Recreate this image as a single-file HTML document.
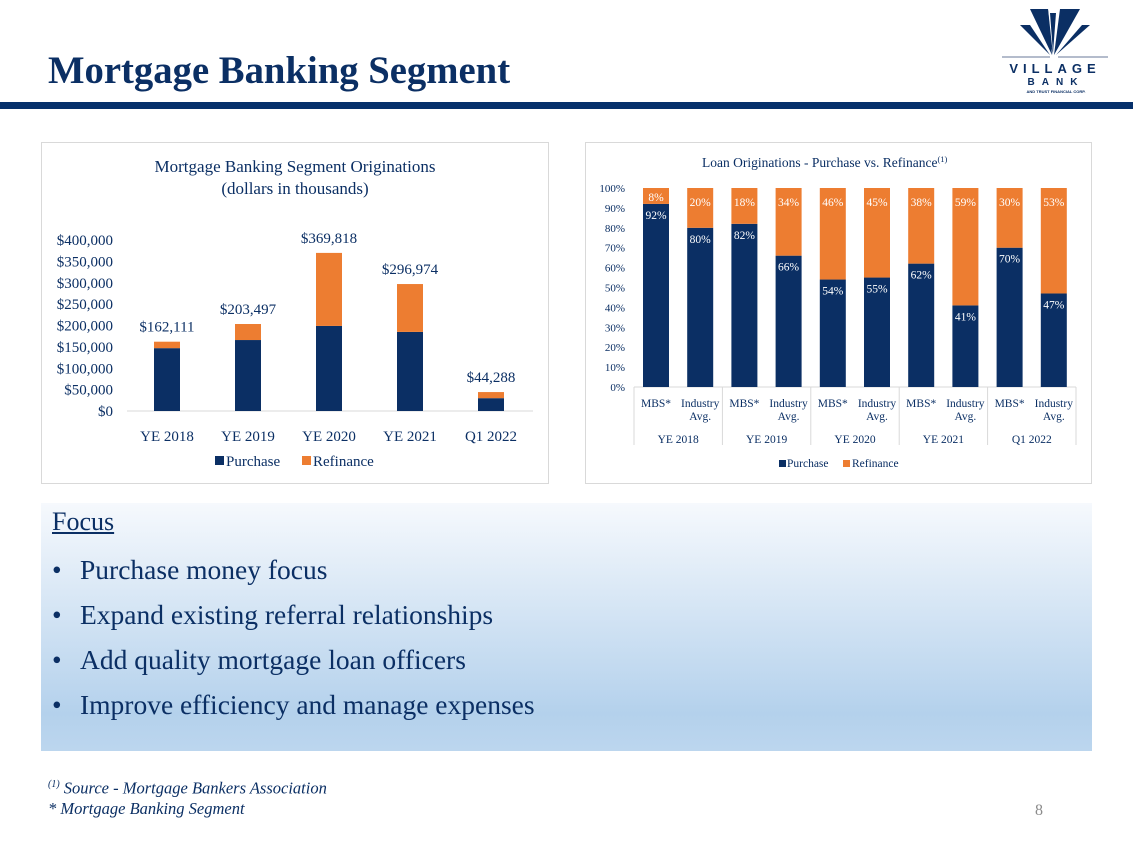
<!DOCTYPE html>
<html><head><meta charset="utf-8"><style>
body{margin:0;width:1133px;height:849px;background:#fff;position:relative;overflow:hidden;font-family:"Liberation Serif",serif;color:#1f3864}
.abs{position:absolute}
</style></head><body>
<div class="abs" style="left:48px;top:49px;font-size:38.7px;font-weight:bold;color:#0b2f64;white-space:nowrap">Mortgage Banking Segment</div>
<div class="abs" style="left:0;top:102px;width:1133px;height:7px;background:#06306b"></div>
<svg class="abs" style="left:990px;top:5px" width="135" height="95" viewBox="0 0 135 95">
<g fill="#0b2f64"><polygon points="40,4 58,4 62,50"/><polygon points="70,4 90,4 64,50"/><polygon points="30,20 40,20 60,50"/><polygon points="92,20 100,20 66,50"/><polygon points="52,4 58,4 63,50"/><polygon points="60,8 66,8 63,48"/></g>
<line x1="12" y1="52" x2="60" y2="52" stroke="#6a7a99" stroke-width="1"/><line x1="68" y1="52" x2="118" y2="52" stroke="#6a7a99" stroke-width="1"/>
<text x="65" y="68" text-anchor="middle" font-family="Liberation Sans" font-weight="bold" font-size="13" letter-spacing="5" fill="#0b2f64">VILLAGE</text>
<text x="66" y="80" text-anchor="middle" font-family="Liberation Sans" font-weight="bold" font-size="10" letter-spacing="7" fill="#0b2f64">BANK</text>
<text x="66" y="88" text-anchor="middle" font-family="Liberation Sans" font-weight="bold" font-size="4" fill="#0b2f64">AND TRUST FINANCIAL CORP.</text>
</svg>

<svg class="abs" id="c1" style="left:0;top:0" width="1133" height="500"></svg>

<div class="abs" style="left:41px;top:503px;width:1051px;height:248px;background:linear-gradient(#f6f9fd,#b4d1ec 85%,#bcd6ee)"></div>
<div class="abs" style="left:52px;top:507px;font-size:26px;text-decoration:underline;color:#0b2f64">Focus</div>
<div class="abs" style="left:52px;top:547px;font-size:27.5px;line-height:45px;color:#0b2f64;white-space:nowrap">
<div><span style="display:inline-block;width:28px">•</span>Purchase money focus</div>
<div><span style="display:inline-block;width:28px">•</span>Expand existing referral relationships</div>
<div><span style="display:inline-block;width:28px">•</span>Add quality mortgage loan officers</div>
<div><span style="display:inline-block;width:28px">•</span>Improve efficiency and manage expenses</div>
</div>
<div class="abs" style="left:48px;top:775px;font-size:16.5px;font-style:italic;line-height:20px;color:#0b2f64"><sup style="font-size:10px">(1)</sup> Source - Mortgage Bankers Association<br>* Mortgage Banking Segment</div>
<div class="abs" style="left:1035px;top:802px;font-size:16px;color:#8c8c8c">8</div>

<script>
const NS='http://www.w3.org/2000/svg';
const NAVY='#0b2f64',ORANGE='#ed7d31';
// Left chart data
const cats1=['YE 2018','YE 2019','YE 2020','YE 2021','Q1 2022'];
const purchase1=[147000,166000,199000,185000,30000];
const totals1=[162111,203497,369818,296974,44288];
const totalLabels1=['$162,111','$203,497','$369,818','$296,974','$44,288'];
const ticks1=[0,50000,100000,150000,200000,250000,300000,350000,400000];
// Right chart data
const groups2=['YE 2018','YE 2019','YE 2020','YE 2021','Q1 2022'];
const subs2=['MBS*','Industry Avg.'];
const purchPct=[92,80,82,66,54,55,62,41,70,47];
const refiPct=[8,20,18,34,46,45,38,59,30,53];
const ticks2=[0,10,20,30,40,50,60,70,80,90,100];

const svg=document.getElementById('c1');
function el(t,a,txt,parent){const e=document.createElementNS(NS,t);for(const k in a)e.setAttribute(k,a[k]);if(txt!=null)e.textContent=txt;(parent||svg).appendChild(e);return e;}
function fmt(v){return '$'+v.toLocaleString('en-US');}

// panel 1
let p=el('rect',{x:41.5,y:142.5,width:507,height:341,fill:'#fff',stroke:'#d9d9d9'});

let t=el('text',{x:295,y:172,'text-anchor':'middle','font-size':17,fill:NAVY,'font-family':'Liberation Serif'},'Mortgage Banking Segment Originations');

t=el('text',{x:295,y:194,'text-anchor':'middle','font-size':17,fill:NAVY,'font-family':'Liberation Serif'},'(dollars in thousands)');

const y0=411,yTop=240,vmax=400000;
const Y1=v=>y0-(v/vmax)*(y0-yTop);
const X1=i=>167+i*81;
ticks1.forEach(v=>{const e=el('text',{x:113,y:Y1(v)+5,'text-anchor':'end','font-size':15,fill:NAVY,'font-family':'Liberation Serif'},fmt(v));
});
let ax=el('line',{x1:127,y1:y0,x2:533,y2:y0,stroke:'#d9d9d9'});
cats1.forEach((c,i)=>{
 const x=X1(i),w=26;
 let r=el('rect',{x:x-w/2,y:Y1(purchase1[i]),width:w,height:y0-Y1(purchase1[i]),fill:NAVY});
 
 r=el('rect',{x:x-w/2,y:Y1(totals1[i]),width:w,height:Y1(purchase1[i])-Y1(totals1[i]),fill:ORANGE});
 
 let l=el('text',{x:x,y:Y1(totals1[i])-10,'text-anchor':'middle','font-size':15,fill:NAVY,'font-family':'Liberation Serif'},totalLabels1[i]);
 
 l=el('text',{x:x,y:441,'text-anchor':'middle','font-size':15,fill:NAVY,'font-family':'Liberation Serif'},c);
 
});
let lg=el('rect',{x:215,y:456,width:9,height:9,fill:NAVY});
lg=el('text',{x:226,y:466,'font-size':15,fill:NAVY,'font-family':'Liberation Serif'},'Purchase');
lg=el('rect',{x:302,y:456,width:9,height:9,fill:ORANGE});
lg=el('text',{x:313,y:466,'font-size':15,fill:NAVY,'font-family':'Liberation Serif'},'Refinance');

// panel 2
p=el('rect',{x:585.5,y:142.5,width:506,height:341,fill:'#fff',stroke:'#d9d9d9'});

t=el('text',{x:702,y:167,'font-size':13.5,fill:NAVY,'font-family':'Liberation Serif'},'Loan Originations - Purchase vs. Refinance');

const sup=el('tspan',{'font-size':8.5,dy:-5},'(1)',t);

const b0=387,b100=188;
const Y2=v=>b0-(v/100)*(b0-b100);
const X2=i=>656+i*44.2;
ticks2.forEach(v=>{const e=el('text',{x:625,y:Y2(v)+4,'text-anchor':'end','font-size':11,fill:NAVY,'font-family':'Liberation Serif'},v+'%');
});
ax=el('line',{x1:634,y1:b0,x2:1076,y2:b0,stroke:'#d9d9d9'});
purchPct.forEach((v,i)=>{
 const x=X2(i),w=26;
 let r=el('rect',{x:x-w/2,y:Y2(v),width:w,height:b0-Y2(v),fill:NAVY});
 
 r=el('rect',{x:x-w/2,y:Y2(v+refiPct[i]),width:w,height:Y2(v)-Y2(v+refiPct[i]),fill:ORANGE});
 
 let l=el('text',{x:x,y:Y2(v)+15,'text-anchor':'middle','font-size':11.5,fill:'#fff','font-family':'Liberation Serif'},v+'%');
 
 l=el('text',{x:x,y:Y2(v+refiPct[i])+(refiPct[i]<12?13:18),'text-anchor':'middle','font-size':11.5,fill:'#fff','font-family':'Liberation Serif'},refiPct[i]+'%');
 
 const s=subs2[i%2];
 if(i%2===0){l=el('text',{x:x,y:407,'text-anchor':'middle','font-size':11.5,fill:NAVY,'font-family':'Liberation Serif'},s);}
 else{l=el('text',{x:x,y:407,'text-anchor':'middle','font-size':11.5,fill:NAVY,'font-family':'Liberation Serif'},'Industry');
  const l2=el('text',{x:x,y:420,'text-anchor':'middle','font-size':11.5,fill:NAVY,'font-family':'Liberation Serif'},'Avg.');
  }
 
});
const gw=(1076-634)/groups2.length;
for(let g=0;g<=groups2.length;g++){const e=el('line',{x1:634+g*gw,y1:b0,x2:634+g*gw,y2:445,stroke:'#d9d9d9'});
}
groups2.forEach((gname,g)=>{const e=el('text',{x:634+(g+0.5)*gw,y:443,'text-anchor':'middle','font-size':11.5,fill:NAVY,'font-family':'Liberation Serif'},gname);
});
lg=el('rect',{x:779,y:460,width:7,height:7,fill:NAVY});
lg=el('text',{x:787,y:467,'font-size':11.5,fill:NAVY,'font-family':'Liberation Serif'},'Purchase');
lg=el('rect',{x:843,y:460,width:7,height:7,fill:ORANGE});
lg=el('text',{x:852,y:467,'font-size':11.5,fill:NAVY,'font-family':'Liberation Serif'},'Refinance');
</script>
</body></html>
